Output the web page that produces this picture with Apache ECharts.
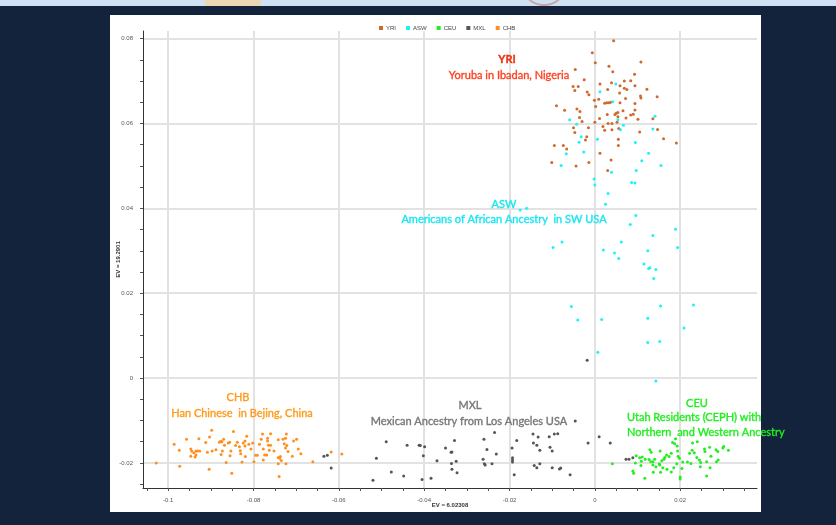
<!DOCTYPE html>
<html><head><meta charset="utf-8">
<script src="https://cdn.jsdelivr.net/npm/echarts@6/dist/echarts.min.js"></script>
<style>
html,body{margin:0;padding:0;background:#12233b;width:836px;height:525px;overflow:hidden}
#top{position:absolute;left:0;top:0;width:836px;height:6px;background:#cfe2f3}
#beige{position:absolute;left:205px;top:0;width:56px;height:6px;background:#ecd6b4}
#pink{position:absolute;left:522px;top:-34px;width:44px;height:40px;border-radius:50%;border:2px solid #c9a7a7;box-sizing:border-box}
#panel{position:absolute;left:110px;top:15px;width:651px;height:497px;background:#fff}
#chart{position:absolute;left:0;top:0;width:836px;height:525px}
</style></head><body>
<div id="top"></div><div id="beige"></div><div id="pink"></div><div id="panel"></div><div id="chart"></div>
<script>
const seriesNames = ['YRI', 'ASW', 'CEU', 'MXL', 'CHB'];
const xAxisName = 'EV = 6.02308';
const yAxisName = 'EV = 19.2901';
const xTickValues = [-0.105,-0.1,-0.095,-0.09,-0.085,-0.08,-0.075,-0.07,-0.065,-0.06,-0.055,-0.05,-0.045,-0.04,-0.035,-0.03,-0.025,-0.02,-0.015,-0.01,-0.005,0,0.005,0.01,0.015,0.02,0.025,0.03,0.035];
const yTickValues = [-0.025,-0.02,-0.015,-0.01,-0.005,0,0.005,0.01,0.015,0.02,0.025,0.03,0.035,0.04,0.045,0.05,0.055,0.06,0.065,0.07,0.075,0.08];

const YRI = [
[0.0044,0.0795],[-0.0006,0.0767],[0.0001,0.0743],[0.0108,0.0745],[0.0033,0.0735],[-0.0046,0.0727],[0.0042,0.0722],[0.0093,0.0716],[-0.0025,0.0703],[0.0084,0.0701],
[0.0069,0.0700],[0.0012,0.0693],[0.0039,0.0696],[-0.0051,0.0687],[-0.0039,0.0687],[0.0059,0.0689],[0.0094,0.0689],[0.0069,0.0683],[0.0075,0.0680],[0.0030,0.0680],
[0.0122,0.0681],[-0.0047,0.0678],[-0.0018,0.0674],[0.0058,0.0672],[-0.0014,0.0668],[0.0107,0.0665],[0.0108,0.0660],[0.0146,0.0663],[-0.0001,0.0655],[0.0009,0.0657],
[0.0072,0.0659],[0.0023,0.0648],[0.0028,0.0649],[0.0033,0.0649],[0.0037,0.0650],[0.0059,0.0649],[0.0094,0.0647],[-0.0090,0.0642],[0.0002,0.0640],[-0.0071,0.0631],
[-0.0042,0.0634],[-0.0035,0.0628],[0.0066,0.0630],[0.0094,0.0632],[0.0050,0.0624],[0.0054,0.0626],[0.0029,0.0621],[0.0047,0.0621],[0.0084,0.0620],[0.0090,0.0622],
[-0.0036,0.0614],[0.0011,0.0612],[0.0073,0.0613],[0.0054,0.0616],[0.0101,0.0610],[0.0136,0.0611],[-0.0030,0.0605],[0.0000,0.0603],[0.0031,0.0600],[0.0040,0.0600],
[0.0052,0.0603],[-0.0050,0.0590],[-0.0015,0.0590],[0.0019,0.0593],[0.0023,0.0584],[0.0040,0.0585],[-0.0047,0.0579],[0.0105,0.0580],[0.0147,0.0586],[-0.0019,0.0569],
[0.0055,0.0563],[0.0161,0.0564],[-0.0095,0.0548],[-0.0074,0.0548],[-0.0066,0.0540],[0.0055,0.0548],[0.0191,0.0554],[0.0056,0.0588],[-0.0022,0.0561],[0.0012,0.0530],
[0.0038,0.0514],[-0.0101,0.0508],[-0.0014,0.0508],[-0.0044,0.0500],[0.0030,0.0489]
];
const ASW = [
[0.0049,0.0693],[0.0012,0.0675],[0.0042,0.0651],[-0.0059,0.0609],[0.0141,0.0617],[0.0054,0.0609],[0.0067,0.0596],[-0.0043,0.0598],[0.0060,0.0585],[0.0136,0.0587],
[-0.0032,0.0569],[-0.0037,0.0556],[0.0006,0.0563],[0.0095,0.0555],[-0.0067,0.0529],[-0.0026,0.0533],[0.0126,0.0530],[0.0110,0.0512],[-0.0079,0.0501],[0.0155,0.0501],
[0.0097,0.0489],[0.0039,0.0485],[-0.0002,0.0469],[0.0000,0.0455],[0.0086,0.0461],[0.0094,0.0460],[0.0031,0.0435],[0.0025,0.0410],[-0.0175,0.0396],[-0.0160,0.0400],
[0.0096,0.0383],[0.0083,0.0362],[0.0189,0.0351],[0.0136,0.0336],[-0.0077,0.0321],[-0.0098,0.0308],[0.0062,0.0321],[0.0194,0.0308],[0.0020,0.0302],[0.0046,0.0295],
[0.0124,0.0300],[0.0056,0.0282],[0.0115,0.0269],[0.0126,0.0258],[0.0129,0.0260],[0.0143,0.0256],[0.0138,0.0235],[-0.0055,0.0169],[0.0154,0.0170],[0.0231,0.0172],
[-0.0040,0.0137],[0.0016,0.0138],[0.0124,0.0141],[0.0209,0.0118],[0.0124,0.0084],[0.0152,0.0086],[0.0007,0.0061],[0.0143,-0.0007]
];
const CEU = [
[0.0041,-0.0202],[0.0091,-0.0224],[0.0089,-0.0219],[0.0097,-0.0183],[0.0105,-0.0188],[0.0111,-0.0186],[0.0095,-0.0200],[0.0108,-0.0206],[0.0117,-0.0236],[0.0129,-0.0169],
[0.0132,-0.0175],[0.0127,-0.0192],[0.0131,-0.0197],[0.0136,-0.0197],[0.0136,-0.0205],[0.0140,-0.0191],[0.0143,-0.0209],[0.0153,-0.0172],[0.0157,-0.0195],[0.0162,-0.0191],
[0.0152,-0.0205],[0.0159,-0.0211],[0.0164,-0.0187],[0.0168,-0.0181],[0.0174,-0.0185],[0.0179,-0.0177],[0.0182,-0.0152],[0.0187,-0.0155],[0.0189,-0.0143],[0.0193,-0.0160],
[0.0195,-0.0184],[0.0198,-0.0189],[0.0192,-0.0202],[0.0206,-0.0198],[0.0204,-0.0213],[0.0200,-0.0233],[0.0200,-0.0238],[0.0169,-0.0215],[0.0185,-0.0211],[0.0154,-0.0222],
[0.0179,-0.0221],[0.0217,-0.0198],[0.0229,-0.0153],[0.0240,-0.0150],[0.0228,-0.0170],[0.0233,-0.0176],[0.0239,-0.0187],[0.0245,-0.0193],[0.0248,-0.0199],[0.0262,-0.0197],
[0.0247,-0.0209],[0.0257,-0.0167],[0.0269,-0.0163],[0.0272,-0.0184],[0.0284,-0.0169],[0.0288,-0.0173],[0.0289,-0.0193],[0.0270,-0.0211],[0.0262,-0.0231],[0.0300,-0.0165],
[0.0302,-0.0161],[0.0313,-0.0170],[0.0118,-0.0191],[0.0109,-0.0196],[0.0151,-0.0202],[0.0194,-0.0172],[0.0222,-0.0177],[0.0225,-0.0201],[0.0258,-0.0173],[0.0285,-0.0197],
[0.0137,-0.0222]
];
const MXL = [
[-0.0018,0.0042],[-0.0520,-0.0241],[-0.0512,-0.0189],[-0.0489,-0.0150],[-0.0477,-0.0221],[-0.0448,-0.0231],[-0.0440,-0.0158],[-0.0412,-0.0158],[-0.0409,-0.0159],[-0.0399,-0.0162],
[-0.0402,-0.0183],[-0.0405,-0.0239],[-0.0384,-0.0236],[-0.0370,-0.0195],[-0.0350,-0.0165],[-0.0337,-0.0175],[-0.0335,-0.0174],[-0.0329,-0.0147],[-0.0336,-0.0201],[-0.0325,-0.0196],
[-0.0335,-0.0215],[-0.0323,-0.0223],[-0.0260,-0.0144],[-0.0253,-0.0168],[-0.0262,-0.0191],[-0.0259,-0.0202],[-0.0257,-0.0205],[-0.0241,-0.0202],[-0.0235,-0.0128],[-0.0231,-0.0179],
[-0.0194,-0.0165],[-0.0193,-0.0188],[-0.0193,-0.0193],[-0.0193,-0.0198],[-0.0189,-0.0228],[-0.0183,-0.0147],[-0.0145,-0.0132],[-0.0133,-0.0139],[-0.0144,-0.0153],[-0.0136,-0.0158],
[-0.0129,-0.0170],[-0.0142,-0.0206],[-0.0136,-0.0211],[-0.0129,-0.0202],[-0.0107,-0.0138],[-0.0095,-0.0132],[-0.0087,-0.0131],[-0.0105,-0.0163],[-0.0100,-0.0172],[-0.0100,-0.0211],
[-0.0083,-0.0214],[-0.0080,-0.0212],[-0.0058,-0.0228],[-0.0016,-0.0153],[0.0010,-0.0138],[0.0036,-0.0153],[-0.0046,-0.0101],[0.0073,-0.0191],[0.0080,-0.0191],[0.0089,-0.0188],
[-0.0635,-0.0184],[-0.0627,-0.0182],[-0.0618,-0.0212]
];
const CHB = [
[-0.1028,-0.0200],[-0.0986,-0.0156],[-0.0974,-0.0170],[-0.0973,-0.0208],[-0.0957,-0.0144],[-0.0947,-0.0167],[-0.0945,-0.0172],[-0.0947,-0.0184],[-0.0940,-0.0176],[-0.0937,-0.0186],
[-0.0935,-0.0181],[-0.0935,-0.0172],[-0.0931,-0.0172],[-0.0926,-0.0172],[-0.0928,-0.0143],[-0.0912,-0.0152],[-0.0908,-0.0175],[-0.0903,-0.0139],[-0.0904,-0.0215],[-0.0898,-0.0123],
[-0.0897,-0.0172],[-0.0888,-0.0169],[-0.0880,-0.0151],[-0.0877,-0.0149],[-0.0874,-0.0150],[-0.0870,-0.0144],[-0.0876,-0.0180],[-0.0873,-0.0172],[-0.0868,-0.0158],[-0.0864,-0.0199],
[-0.0859,-0.0153],[-0.0856,-0.0151],[-0.0855,-0.0183],[-0.0853,-0.0172],[-0.0847,-0.0126],[-0.0851,-0.0224],[-0.0842,-0.0159],[-0.0838,-0.0151],[-0.0833,-0.0162],[-0.0831,-0.0171],
[-0.0830,-0.0178],[-0.0827,-0.0198],[-0.0824,-0.0153],[-0.0820,-0.0148],[-0.0820,-0.0160],[-0.0819,-0.0185],[-0.0816,-0.0137],[-0.0811,-0.0156],[-0.0806,-0.0167],[-0.0802,-0.0153],
[-0.0799,-0.0197],[-0.0795,-0.0182],[-0.0791,-0.0182],[-0.0786,-0.0156],[-0.0782,-0.0144],[-0.0779,-0.0132],[-0.0777,-0.0193],[-0.0777,-0.0167],[-0.0774,-0.0181],[-0.0769,-0.0181],
[-0.0767,-0.0148],[-0.0767,-0.0142],[-0.0765,-0.0158],[-0.0763,-0.0170],[-0.0760,-0.0131],[-0.0760,-0.0158],[-0.0752,-0.0172],[-0.0742,-0.0145],[-0.0742,-0.0187],[-0.0739,-0.0189],
[-0.0737,-0.0185],[-0.0735,-0.0194],[-0.0731,-0.0144],[-0.0728,-0.0155],[-0.0725,-0.0142],[-0.0725,-0.0165],[-0.0723,-0.0132],[-0.0722,-0.0159],[-0.0719,-0.0173],[-0.0742,-0.0202],
[-0.0724,-0.0202],[-0.0740,-0.0232],[-0.0709,-0.0184],[-0.0706,-0.0148],[-0.0699,-0.0144],[-0.0695,-0.0167],[-0.0689,-0.0178],[-0.0661,-0.0197],[-0.0618,-0.0174],[-0.0593,-0.0179]
];
const groupData = [YRI, ASW, CEU, MXL, CHB];
const groupColors = ['#cf6a2c', '#1ef2f7', '#22ee22', '#555555', '#ff9020'];

const chart = echarts.init(document.getElementById('chart'), null, {renderer: 'canvas'});
const axisLabelStyle = {fontSize: 6, color: '#555', fontFamily: 'Liberation Sans'};
const gridLine = {show: true, showMinLine: false, showMaxLine: false, lineStyle: {color: '#e2e2e2', width: 2}};
const xMin = -0.1059, xMax = 0.038, yMin = -0.0259, yMax = 0.0818;

const ann = [
  {x: 507, y: 59, text: 'YRI', fill: '#ee3311', weight: 'bold'},
  {x: 509, y: 75, text: 'Yoruba in Ibadan, Nigeria', fill: '#ff3f1f'},
  {x: 504, y: 204, text: 'ASW', fill: '#19e6f2'},
  {x: 504, y: 219, text: 'Americans of African Ancestry  in SW USA', fill: '#19e6f2'},
  {x: 238, y: 397, text: 'CHB', fill: '#ff9a1a'},
  {x: 242, y: 413, text: 'Han Chinese  in Bejing, China', fill: '#ff9a1a'},
  {x: 470, y: 405, text: 'MXL', fill: '#777777'},
  {x: 469, y: 421, text: 'Mexican Ancestry from Los Angeles USA', fill: '#777777'},
  {x: 697, y: 403, text: 'CEU', fill: '#22ee22'},
  {x: 627, y: 417, text: 'Utah Residents (CEPH) with', fill: '#22ee22', align: 'left'},
  {x: 627, y: 432, text: 'Northern  and Western Ancestry', fill: '#22ee22', align: 'left'}
];

chart.setOption({
  animation: false,
  legend: {
    data: seriesNames, left: 374, top: 20, icon: 'rect', itemWidth: 4, itemHeight: 4, itemGap: 10,
    textStyle: {fontSize: 6, color: '#444', fontFamily: 'Liberation Sans', padding: [0, 0, 0, -2]}
  },
  grid: {left: 143, right: 79, top: 31, bottom: 37, containLabel: false},
  xAxis: [
    {type: 'value', min: xMin, max: xMax, position: 'bottom',
     axisLine: {show: true, onZero: false, lineStyle: {color: '#333', width: 1}},
     axisTick: {show: true, customValues: xTickValues, length: 3, lineStyle: {color: '#555'}},
     axisLabel: {show: false}, splitLine: {show: false}},
    {type: 'value', min: xMin, max: xMax, position: 'bottom', splitNumber: 7,
     name: xAxisName, nameLocation: 'middle', nameGap: 14, nameMoveOverlap: false,
     nameTextStyle: {fontSize: 6, color: '#333', fontWeight: 'bold', fontFamily: 'Liberation Sans'},
     axisLine: {show: false, onZero: false}, axisTick: {show: false},
     axisLabel: Object.assign({showMinLabel: false, showMaxLabel: false, margin: 9}, axisLabelStyle),
     splitLine: gridLine}
  ],
  yAxis: [
    {type: 'value', min: yMin, max: yMax, position: 'left',
     axisLine: {show: true, onZero: false, lineStyle: {color: '#333', width: 1}},
     axisTick: {show: true, customValues: yTickValues, length: 3, lineStyle: {color: '#555'}},
     axisLabel: {show: false}, splitLine: {show: false}},
    {type: 'value', min: yMin, max: yMax, position: 'left', splitNumber: 5,
     name: yAxisName, nameLocation: 'middle', nameGap: 22, nameRotate: 90, nameMoveOverlap: false,
     nameTextStyle: {fontSize: 6, color: '#333', fontWeight: 'bold', fontFamily: 'Liberation Sans'},
     axisLine: {show: false, onZero: false}, axisTick: {show: false},
     axisLabel: Object.assign({showMinLabel: false, showMaxLabel: false, margin: 10}, axisLabelStyle),
     splitLine: gridLine}
  ],
  series: seriesNames.map((n, i) => ({
    name: n, type: 'scatter', xAxisIndex: 0, yAxisIndex: 0,
    data: groupData[i], symbol: 'circle', symbolSize: 3,
    itemStyle: {color: groupColors[i], opacity: 1}
  })),
  graphic: ann.map(a => ({
    type: 'text', x: a.x, y: a.y, z: 100,
    style: {
      text: a.text, fill: a.fill, stroke: a.fill, lineWidth: 0.35,
      font: (a.weight || 'normal') + ' 11px Lato',
      align: a.align || 'center', textAlign: a.align || 'center',
      verticalAlign: 'middle', textVerticalAlign: 'middle'
    }
  }))
});
</script>
</body></html>
